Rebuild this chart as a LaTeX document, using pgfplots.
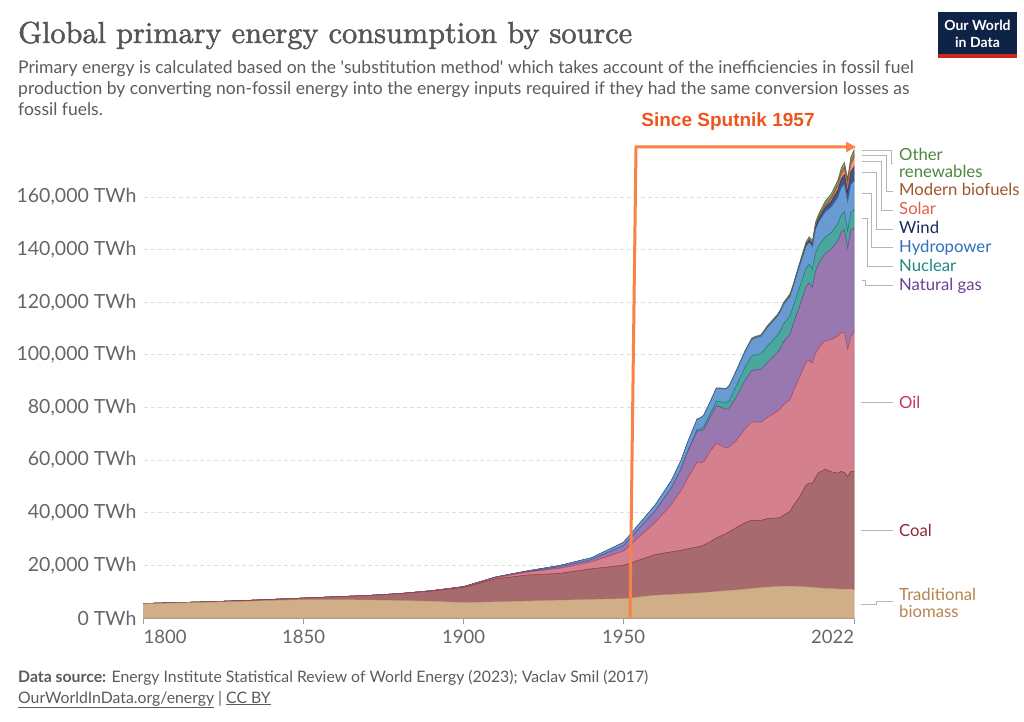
\documentclass[border=0pt]{standalone}
\usepackage{fontspec}
\usepackage{graphicx}
\usepackage{pgfplots}
\usepackage{pgfplotstable}
\pgfplotsset{compat=1.18}
\usetikzlibrary{arrows.meta}

\newfontfamily\lato{Lato}[Ligatures=TeXOff]
\newfontfamily\arial{Liberation Sans}
\newfontfamily\titlefont{lmroman10-regular.otf}[FakeBold=1.6]

\definecolor{titlegray}{HTML}{555555}
\definecolor{subgray}{HTML}{5B5B5B}
\definecolor{tickgray}{HTML}{666666}
\definecolor{axisgray}{HTML}{A0A0A0}
\definecolor{gridgray}{HTML}{DDDDDD}
\definecolor{connector}{HTML}{B5B5B5}
\definecolor{owidnavy}{HTML}{0F2346}
\definecolor{owidred}{HTML}{CE261E}
\definecolor{sputline}{HTML}{FA8246}
\definecolor{sputtext}{HTML}{EE551E}

\definecolor{biomassfill}{HTML}{CFAE88}
\definecolor{biomassline}{HTML}{B89468}
\definecolor{coalfill}{HTML}{A76B6F}
\definecolor{coalline}{HTML}{8B3A44}
\definecolor{oilfill}{HTML}{D5808E}
\definecolor{oilline}{HTML}{B8485F}
\definecolor{gasfill}{HTML}{9878AF}
\definecolor{gasline}{HTML}{6E4A8E}
\definecolor{nucfill}{HTML}{4BA69E}
\definecolor{nucline}{HTML}{1C7F77}
\definecolor{hydrofill}{HTML}{6A9AD2}
\definecolor{hydroline}{HTML}{3A6FB0}
\definecolor{windfill}{HTML}{3F5787}
\definecolor{windline}{HTML}{23345F}
\definecolor{solarfill}{HTML}{EE9985}
\definecolor{solarline}{HTML}{D8654F}
\definecolor{biofill}{HTML}{B77E5A}
\definecolor{bioline}{HTML}{9A5530}
\definecolor{otherfill}{HTML}{7EA66B}
\definecolor{otherline}{HTML}{4E6A3A}

% label colours
\definecolor{lbother}{HTML}{4C873C}
\definecolor{lbbio}{HTML}{A4542A}
\definecolor{lbsolar}{HTML}{E4604E}
\definecolor{lbwind}{HTML}{1B2B5B}
\definecolor{lbhydro}{HTML}{2F6FC0}
\definecolor{lbnuc}{HTML}{1A8A80}
\definecolor{lbgas}{HTML}{6E3F96}
\definecolor{lboil}{HTML}{C8375A}
\definecolor{lbcoal}{HTML}{8A2A3A}
\definecolor{lbbiomass}{HTML}{B5844F}

% TWh by source: B biomass, C coal, O oil, G gas, N nuclear, H hydro,
% W wind, S solar, F modern biofuels, R other renewables
\pgfplotstableread{
year B C O G N H W S F R
1800 5400 100 0 0 0 0 0 0 0 0
1810 5700 130 0 0 0 0 0 0 0 0
1820 6000 160 0 0 0 0 0 0 0 0
1830 6300 260 0 0 0 0 0 0 0 0
1840 6700 360 0 0 0 0 0 0 0 0
1850 7000 570 0 0 0 0 0 0 0 0
1860 7000 1060 0 0 0 0 0 0 0 0
1870 6900 1640 6 0 0 0 0 0 0 0
1880 6700 2540 33 0 0 0 0 0 0 0
1890 6400 3860 89 20 0 0 0 0 0 0
1900 5900 5730 181 64 0 50 0 0 0 0
1910 6200 8660 460 150 0 100 0 0 0 0
1920 6500 9830 1100 230 0 240 0 0 0 0
1930 6800 10130 1950 580 0 470 0 0 0 0
1940 7100 11590 2610 880 0 700 0 0 0 0
1950 7400 12600 5440 2090 0 1200 0 0 0 0
1960 8700 15440 12300 4470 20 2200 0 0 0 40
1965 9000 16140 18100 6300 70 2700 0 0 0 60
1968 9200 16500 22800 8200 140 3100 0 0 0 75
1970 9300 17000 26700 10000 220 3500 0 0 0 90
1973 9500 17500 32300 11800 560 3900 0 0 0 110
1974 9600 17600 31800 12100 700 4200 0 0 0 115
1975 9700 18000 31600 12300 1000 4300 0 0 0 120
1977 9900 19000 34300 12900 1300 4500 0 0 0 150
1979 10100 20300 36000 14300 1700 4900 0 0 0 180
1980 10200 20700 34900 14500 1930 5000 0 0 0 200
1982 10400 21700 32500 14700 2400 5300 0 0 0 250
1983 10500 22200 32300 14800 2800 5500 0 0 0 280
1985 10700 23500 32900 16400 4100 5600 2 0 0 350
1988 11000 25200 35800 18300 5100 5900 5 0 0 420
1990 11300 25900 37300 19500 5500 6200 10 1 100 460
1991 11400 25600 37400 19900 5700 6350 12 1 100 480
1993 11600 25500 37300 20100 5900 6700 18 1 105 510
1995 11800 26000 38500 20900 6300 7000 24 1 110 560
1998 12000 26000 40500 22300 6500 7200 57 2 105 610
1999 12100 26100 41300 22900 6700 7300 65 2 105 630
2000 12100 27000 42000 23900 6800 7300 83 3 110 640
2002 12100 28300 42500 25000 6900 7400 140 5 150 700
2003 12100 30500 43400 25600 6800 7400 165 6 170 730
2005 12000 34000 45500 27000 7200 8000 270 11 220 800
2007 11900 38500 46800 28600 7100 8300 440 20 360 880
2008 11800 39500 46600 29500 7000 8500 570 33 480 920
2009 11700 39400 45800 28800 6900 8500 710 50 530 980
2010 11600 41800 47100 31300 7000 9000 880 82 600 1100
2011 11500 43800 47500 32000 6700 9100 1110 170 600 1180
2013 11300 45200 48800 33200 6200 9600 1650 350 700 1380
2015 11200 44300 50400 34400 6300 9800 2100 640 800 1550
2017 11100 43900 52200 36200 6500 10100 2800 1150 880 1700
2018 11000 44700 52800 38000 6700 10400 3100 1450 980 1780
2019 11000 44300 53300 39000 6900 10500 3500 1760 1050 1850
2020 11000 42700 48300 38400 6600 10900 3900 2150 980 1920
2021 10950 44700 51200 40400 6900 10700 4600 2650 1060 1980
2022 10900 44900 53000 39400 7000 10900 5300 3300 1150 2000
}\energy

\begin{document}
\begin{tikzpicture}
\useasboundingbox (0,0) rectangle (1024pt,721pt);
\fill[white] (0,0) rectangle (1024pt,721pt);

\begin{axis}[
  at={(143.6pt,103pt)}, anchor=south west,
  scale only axis, width=710.4pt, height=473.6pt,
  xmin=1800, xmax=2022, ymin=0, ymax=180000,
  stack plots=y,
  axis x line*=bottom, axis y line*=left,
  x axis line style={draw=axisgray, line width=1pt, -},
  y axis line style={draw=none},
  ytick={0,20000,40000,60000,80000,100000,120000,140000,160000},
  scaled y ticks=false,
  /pgf/number format/fixed,
  /pgf/number format/1000 sep={,},
  /pgf/number format/assume math mode=true,
  yticklabel={\pgfmathprintnumber{\tick}~TWh},
  xtick={1800,1850,1900,1950,2022},
  xticklabels={\rlap{1800},1850,1900,1950,\llap{2022}},
  xticklabel style={font=\lato\fontsize{18.5}{20}\selectfont, text=tickgray,
    inner sep=0pt, yshift=-6pt},
  yticklabel style={font=\lato\fontsize{19.5}{21}\selectfont, text=tickgray,
    anchor=east, inner sep=0pt, xshift=-1pt},
  tick align=outside, major tick length=6pt,
  xtick style={draw=axisgray, line width=0.8pt},
  ytick style={draw=none},
  ymajorgrids,
  grid style={gridgray, line width=0.8pt, dash pattern=on 4pt off 3pt},
  clip=false,
]
\addplot[draw=biomassline, fill=biomassfill, line width=0.5pt] table[x=year,y=B]{\energy} \closedcycle;
\addplot[draw=coalline, fill=coalfill, line width=0.5pt] table[x=year,y=C]{\energy} \closedcycle;
\addplot[draw=oilline, fill=oilfill, line width=0.5pt] table[x=year,y=O]{\energy} \closedcycle;
\addplot[draw=gasline, fill=gasfill, line width=0.5pt] table[x=year,y=G]{\energy} \closedcycle;
\addplot[draw=nucline, fill=nucfill, line width=0.5pt] table[x=year,y=N]{\energy} \closedcycle;
\addplot[draw=hydroline, fill=hydrofill, line width=0.5pt] table[x=year,y=H]{\energy} \closedcycle;
\addplot[draw=windline, fill=windfill, line width=0.5pt] table[x=year,y=W]{\energy} \closedcycle;
\addplot[draw=solarline, fill=solarfill, line width=0.5pt] table[x=year,y=S]{\energy} \closedcycle;
\addplot[draw=bioline, fill=biofill, line width=0.5pt] table[x=year,y=F]{\energy} \closedcycle;
\addplot[draw=otherline, fill=otherfill, line width=0.6pt] table[x=year,y=R]{\energy} \closedcycle;
\end{axis}

\begin{scope}[shift={(0pt,721pt)}, x=1pt, y=-1pt]
% title and subtitle
\node[anchor=base west, inner sep=0pt, text=titlegray] at (18,43)
  {\resizebox{614pt}{!}{\titlefont\fontsize{32}{36}\selectfont Global primary energy consumption by source}};
\begin{scope}[every node/.style={anchor=base west, inner sep=0pt, text=subgray,
    font=\lato\fontsize{17.5}{20}\selectfont}]
\node at (18,74) {Primary energy is calculated based on the 'substitution method' which takes account of the inefficiencies in fossil fuel};
\node at (18,95) {production by converting non-fossil energy into the energy inputs required if they had the same conversion losses as};
\node at (18,116) {fossil fuels.};
\end{scope}

% logo
\fill[owidnavy] (938,12) rectangle (1017,58);
\fill[owidred] (938,54) rectangle (1017,58);
\node[text=white, font=\lato\bfseries\fontsize{14}{16}\selectfont, anchor=base, inner sep=0pt] at (977.5,31) {Our World};
\node[text=white, font=\lato\bfseries\fontsize{14}{16}\selectfont, anchor=base, inner sep=0pt] at (977.5,48) {in Data};

% Sputnik annotation
\draw[sputline, line width=3pt, line join=miter, -{Triangle[length=10pt,width=10pt]}]
  (630,617) -- (636,147) -- (856,147);
\node[text=sputtext, font=\arial\bfseries\fontsize{19}{22}\selectfont, inner sep=0pt] at (728,122) {Since Sputnik 1957};

% connectors
\begin{scope}[connector, line width=0.9pt]
\draw (861.7,150) -- (891.7,150) -- (891.7,163.3) -- (893.3,163.3);
\draw (861.7,155) -- (886.7,155) -- (886.7,191) -- (893.3,191);
\draw (861.7,161.7) -- (881.7,161.7) -- (881.7,210) -- (893.3,210);
\draw (861.7,172.7) -- (876.7,172.7) -- (876.7,229) -- (893.3,229);
\draw (861.7,193.3) -- (871.7,193.3) -- (871.7,247.3) -- (893.3,247.3);
\draw (861.7,218.3) -- (867.3,218.3) -- (867.3,266.7) -- (893.3,266.7);
\draw (861.7,280) -- (865,280) -- (865,285) -- (893.3,285);
\draw (860.7,402) -- (893.3,402);
\draw (860.7,530.5) -- (893.3,530.5);
\draw (860.7,604) -- (876.7,604) -- (876.7,601.7) -- (893.3,601.7);
\end{scope}

% series labels
\begin{scope}[every node/.style={anchor=base west, inner sep=0pt,
    font=\lato\fontsize{16.7}{20}\selectfont}]
\node[text=lbother] at (899,161) {Other};
\node[text=lbother] at (899,177.5) {renewables};
\node[text=lbbio] at (899,196) {Modern biofuels};
\node[text=lbsolar] at (899,215) {Solar};
\node[text=lbwind] at (899,234) {Wind};
\node[text=lbhydro] at (899,252.5) {Hydropower};
\node[text=lbnuc] at (899,272) {Nuclear};
\node[text=lbgas] at (899,290.5) {Natural gas};
\node[text=lboil] at (899,408) {Oil};
\node[text=lbcoal] at (899,536) {Coal};
\node[text=lbbiomass] at (899,600) {Traditional};
\node[text=lbbiomass] at (899,617) {biomass};
\end{scope}

% footer
\node[anchor=base west, inner sep=0pt, text=subgray, font=\lato\fontsize{15.8}{18}\selectfont] at (18,682)
  {\textbf{Data source:} Energy Institute Statistical Review of World Energy (2023); Vaclav Smil (2017)};
\node[anchor=base west, inner sep=0pt, text=subgray, font=\lato\fontsize{15.8}{18}\selectfont] at (18,703)
  {\underline{OurWorldInData.org/energy} | \underline{CC BY}};
\end{scope}
\end{tikzpicture}
\end{document}
